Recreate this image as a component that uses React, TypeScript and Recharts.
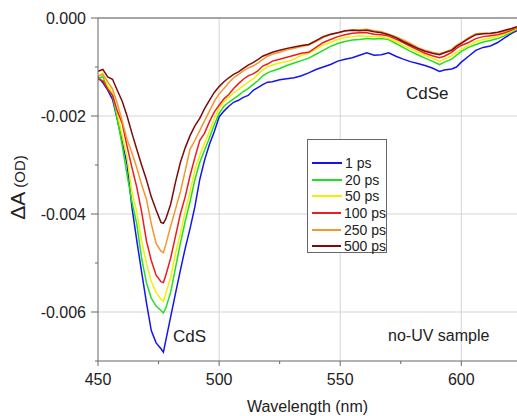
import React from 'react';
import { LineChart, Line, XAxis, YAxis, CartesianGrid, ReferenceLine, Label } from 'recharts';

// wavelength (nm) and transient absorption (in mOD, i.e. x 1e-3 OD)
const wavelength = [
  450, 452, 454, 456, 458, 460, 462, 464, 466, 468, 470, 472, 474, 476, 477, 478,
  480, 482, 484, 486, 488, 490, 492, 494, 496, 498, 500, 502, 504, 506, 508, 510,
  512, 514, 516, 518, 520, 522, 525, 528, 531, 534, 537, 540, 543, 546, 549, 552,
  555, 558, 561, 564, 567, 570, 573, 576, 579, 582, 585, 588, 591, 593, 596, 598,
  600, 603, 606, 609, 612, 615, 618, 621, 623,
];

const ps1 = [
  -1.20, -1.32, -1.47, -1.66, -2.08, -2.52, -2.98, -3.86, -4.54, -5.18, -5.81, -6.38, -6.63, -6.75, -6.82, -6.58,
  -6.10, -5.62, -5.15, -4.70, -4.30, -3.85, -3.30, -2.90, -2.58, -2.32, -2.02, -1.90, -1.80, -1.72, -1.68, -1.62,
  -1.58, -1.48, -1.42, -1.36, -1.31, -1.30, -1.26, -1.24, -1.22, -1.18, -1.12, -1.05, -1.00, -0.95, -0.88, -0.84,
  -0.81, -0.76, -0.71, -0.76, -0.75, -0.71, -0.78, -0.84, -0.89, -0.93, -0.97, -1.02, -1.09, -1.06, -1.04, -1.00,
  -0.90, -0.78, -0.66, -0.60, -0.57, -0.50, -0.40, -0.31, -0.26,
];

const ps20 = [
  -1.25, -1.19, -1.44, -1.58, -2.07, -2.60, -3.20, -3.75, -4.20, -4.90, -5.40, -5.72, -5.88, -5.97, -6.02, -5.92,
  -5.60, -5.10, -4.60, -4.15, -3.75, -3.30, -2.95, -2.70, -2.45, -2.18, -1.95, -1.80, -1.72, -1.65, -1.58, -1.50,
  -1.44, -1.36, -1.28, -1.18, -1.12, -1.08, -1.03, -0.97, -0.92, -0.87, -0.82, -0.74, -0.66, -0.58, -0.52, -0.48,
  -0.45, -0.44, -0.42, -0.43, -0.42, -0.44, -0.52, -0.60, -0.68, -0.75, -0.82, -0.88, -0.95, -0.90, -0.84, -0.76,
  -0.68, -0.60, -0.54, -0.49, -0.46, -0.42, -0.36, -0.28, -0.22,
];

const ps50 = [
  -1.19, -1.12, -1.38, -1.54, -1.95, -2.40, -2.85, -3.55, -3.95, -4.55, -5.00, -5.38, -5.60, -5.74, -5.78, -5.62,
  -5.30, -4.80, -4.40, -3.95, -3.55, -3.10, -2.80, -2.55, -2.32, -2.05, -1.85, -1.70, -1.62, -1.53, -1.46, -1.38,
  -1.31, -1.25, -1.15, -1.06, -1.00, -0.96, -0.92, -0.89, -0.84, -0.76, -0.72, -0.64, -0.55, -0.50, -0.44, -0.40,
  -0.38, -0.36, -0.37, -0.38, -0.39, -0.42, -0.48, -0.56, -0.63, -0.70, -0.76, -0.82, -0.88, -0.84, -0.77, -0.70,
  -0.64, -0.56, -0.48, -0.44, -0.41, -0.38, -0.33, -0.26, -0.21,
];

const ps100 = [
  -1.25, -1.28, -1.45, -1.58, -1.90, -2.15, -2.62, -3.05, -3.45, -3.95, -4.55, -4.95, -5.25, -5.38, -5.40, -5.25,
  -4.90, -4.45, -4.00, -3.65, -3.22, -2.85, -2.50, -2.35, -2.12, -1.92, -1.78, -1.65, -1.56, -1.44, -1.34, -1.25,
  -1.18, -1.14, -1.08, -0.98, -0.94, -0.88, -0.84, -0.80, -0.76, -0.72, -0.70, -0.60, -0.50, -0.44, -0.38, -0.34,
  -0.31, -0.30, -0.30, -0.33, -0.34, -0.37, -0.43, -0.50, -0.58, -0.65, -0.72, -0.77, -0.81, -0.78, -0.70, -0.62,
  -0.56, -0.50, -0.42, -0.38, -0.36, -0.34, -0.30, -0.24, -0.20,
];

const ps250 = [
  -1.19, -1.15, -1.30, -1.45, -1.75, -2.10, -2.48, -2.75, -3.05, -3.40, -3.70, -4.20, -4.60, -4.76, -4.79, -4.62,
  -4.25, -3.90, -3.55, -3.12, -2.68, -2.50, -2.30, -2.10, -1.90, -1.70, -1.55, -1.44, -1.32, -1.22, -1.15, -1.08,
  -1.02, -0.98, -0.92, -0.85, -0.78, -0.74, -0.70, -0.65, -0.62, -0.58, -0.55, -0.48, -0.40, -0.34, -0.30, -0.27,
  -0.24, -0.24, -0.23, -0.26, -0.28, -0.33, -0.38, -0.45, -0.52, -0.60, -0.66, -0.70, -0.73, -0.70, -0.64, -0.56,
  -0.50, -0.40, -0.32, -0.31, -0.32, -0.30, -0.27, -0.22, -0.19,
];

const ps500 = [
  -1.09, -1.05, -1.20, -1.25, -1.48, -1.70, -2.00, -2.35, -2.68, -3.00, -3.30, -3.65, -3.92, -4.17, -4.19, -4.10,
  -3.80, -3.35, -2.95, -2.65, -2.40, -2.20, -2.05, -1.85, -1.68, -1.52, -1.40, -1.30, -1.22, -1.15, -1.10, -1.03,
  -0.96, -0.91, -0.85, -0.78, -0.74, -0.70, -0.66, -0.62, -0.59, -0.56, -0.54, -0.46, -0.38, -0.33, -0.30, -0.26,
  -0.25, -0.26, -0.25, -0.28, -0.30, -0.34, -0.40, -0.48, -0.55, -0.62, -0.68, -0.72, -0.75, -0.71, -0.66, -0.58,
  -0.52, -0.42, -0.34, -0.32, -0.31, -0.29, -0.25, -0.21, -0.18,
];

const seriesKeys = ['ps1', 'ps20', 'ps50', 'ps100', 'ps250', 'ps500'];
const seriesNames = ['1 ps', '20 ps', '50 ps', '100 ps', '250 ps', '500 ps'];
const seriesColors = ['#1414f0', '#1ee01e', '#f0f000', '#ee1c1c', '#f5962e', '#7a0c0c'];
const seriesValues = [ps1, ps20, ps50, ps100, ps250, ps500];

const xTicks = [450, 475, 500, 525, 550, 575, 600];
const xMajor = [450, 500, 550, 600];
const yTicks = [0, -0.001, -0.002, -0.003, -0.004, -0.005, -0.006, -0.007];
const yMajor = [0, -0.002, -0.004, -0.006];

const FONT = '"Liberation Sans", Arial, sans-serif';
const AXIS = '#666';

// convert mOD to OD for plotting
const data = wavelength.map((w, i) => {
  const row: any = { w };
  seriesKeys.forEach((k, s) => {
    row[k] = seriesValues[s][i] / 1000;
  });
  return row;
});

const YTick = (props: any) => {
  const { x, y, payload } = props;
  const major = yMajor.includes(payload.value);
  const axisX = x + 12;
  return (
    <g>
      <line x1={axisX - (major ? 7 : 3)} x2={axisX} y1={y} y2={y} stroke={AXIS} />
      {major && (
        <text x={x} y={y} dy="0.36em" textAnchor="end" fontSize={16} fontFamily={FONT} fill="#222">
          {payload.value.toFixed(3)}
        </text>
      )}
    </g>
  );
};

const XTick = (props: any) => {
  const { x, y, payload } = props;
  const major = xMajor.includes(payload.value);
  const axisY = y - 13;
  return (
    <g>
      <line x1={x} x2={x} y1={axisY} y2={axisY + (major ? 5 : 3)} stroke={AXIS} />
      {major && (
        <text x={x} y={y} dy="0.71em" textAnchor="middle" fontSize={16} fontFamily={FONT} fill="#222">
          {payload.value}
        </text>
      )}
    </g>
  );
};

const YLabel = (props: any) => {
  const { viewBox } = props;
  const cy = viewBox.y + viewBox.height / 2 - 2;
  const cx = 25;
  return (
    <text
      x={cx}
      y={cy}
      transform={`rotate(-90, ${cx}, ${cy})`}
      textAnchor="middle"
      fontFamily={FONT}
      fill="#222"
    >
      <tspan fontSize={21}>ΔA</tspan>
      <tspan fontSize={15} dx={4}>(OD)</tspan>
    </text>
  );
};

const note = (text: string, left: number, top: number, size: number) => (
  <div
    style={{
      position: 'absolute',
      left,
      top,
      fontSize: size,
      lineHeight: `${size}px`,
      fontFamily: FONT,
      color: '#222',
      whiteSpace: 'nowrap',
    }}
  >
    {text}
  </div>
);

export default function App() {
  return (
    <div style={{ position: 'absolute', left: 0, top: 0, width: 517, height: 416, background: '#fff' }}>
      <LineChart width={517} height={416} data={data} margin={{ top: 18, right: 0, bottom: 0, left: 0 }}>
        <CartesianGrid
          stroke="#d4d4d4"
          verticalValues={[500, 550, 600]}
          horizontalValues={[-0.002, -0.004, -0.006]}
        />
        <ReferenceLine y={0} stroke="#888" strokeWidth={1.5} />
        <XAxis
          dataKey="w"
          type="number"
          domain={[450, 623]}
          ticks={xTicks}
          allowDataOverflow
          height={55}
          stroke={AXIS}
          tickLine={false}
          tickSize={5}
          tickMargin={8}
          tick={<XTick />}
        >
          <Label
            value="Wavelength (nm)"
            position="insideBottom"
            offset={4}
            style={{ fontSize: 16, fontFamily: FONT, fill: '#222' }}
          />
        </XAxis>
        <YAxis
          type="number"
          domain={[-0.007, 0]}
          ticks={yTicks}
          allowDataOverflow
          width={98}
          stroke={AXIS}
          tickLine={false}
          tickSize={7}
          tickMargin={5}
          tick={<YTick />}
          label={<YLabel />}
        />
        {seriesKeys.map((k, s) => (
          <Line
            key={k}
            type="linear"
            dataKey={k}
            name={seriesNames[s]}
            stroke={seriesColors[s]}
            strokeWidth={1.5}
            dot={false}
            isAnimationActive={false}
          />
        ))}
      </LineChart>

      {note('CdS', 173, 328, 17)}
      {note('CdSe', 406, 85, 17)}
      {note('no-UV sample', 388, 328, 16)}

      <div
        style={{
          position: 'absolute',
          left: 307,
          top: 139,
          width: 80,
          height: 114,
          border: '1px solid #666',
          background: '#fff',
          paddingTop: 15,
          boxSizing: 'border-box',
          fontFamily: FONT,
          fontSize: 14,
          color: '#222',
        }}
      >
        {seriesNames.map((n, s) => (
          <div key={n} style={{ display: 'flex', alignItems: 'center', height: 16.6, whiteSpace: 'nowrap' }}>
            <span
              style={{
                display: 'inline-block',
                width: 30,
                height: 2,
                marginLeft: 4,
                marginRight: 3,
                background: seriesColors[s],
              }}
            />
            <span>{n}</span>
          </div>
        ))}
      </div>
    </div>
  );
}
